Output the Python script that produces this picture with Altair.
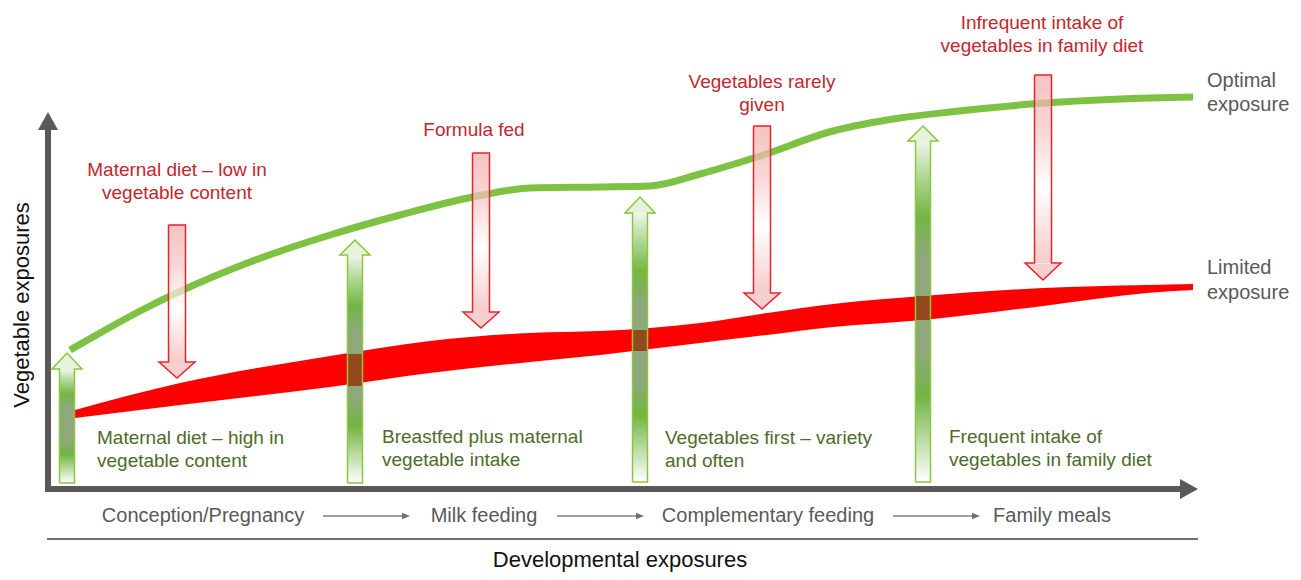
import altair as alt
import pandas as pd

FONT = "Liberation Sans"

# ---- data (image pixel coordinates) ----
# Optimal exposure curve
opt_x = [70, 100, 140, 183, 250, 330, 400, 473, 530, 600, 650, 700, 760, 833, 900, 950, 1045, 1120, 1193]
opt_y = [350, 333, 311, 290, 262, 235, 215, 197, 188, 187, 186, 174, 156, 131, 118, 112, 103, 99, 97]

# Limited exposure band
lim_x = [75, 180, 330, 430, 530, 600, 650, 700, 767, 833, 923, 1043, 1147, 1193]
lim_top = [410, 383, 356, 341, 333, 331, 328, 323, 313, 304, 296, 288, 285, 284]
lim_bot = [418, 405, 387, 373, 362, 355, 349, 343, 335, 327, 320, 306, 293, 290]

# Green (positive) arrows
up_cx = [67, 355, 640, 923]
up_tip = [353, 240, 197, 126]
up_base = [369, 255, 213, 141]
up_bottom = [483, 483, 482, 482]
up_shaft_half = 7.5
up_head_half = 15

# Red (negative) arrows
dn_cx = [177, 481, 762, 1043]
dn_top = [225, 153, 126, 75]
dn_base = [362, 312, 293, 263]
dn_tip = [378, 328, 309, 280]
dn_shaft_half = 8.5
dn_head_half = 18

# crossings of green arrows with the red band
cross_x1 = [347, 633, 916]
cross_x2 = [363, 648, 931]
cross_top = [354, 330, 296]
cross_bot = [386, 351, 320]

# annotations
red_lines = ["Maternal diet \u2013 low in", "vegetable content", "Formula fed",
             "Vegetables rarely", "given", "Infrequent intake of", "vegetables in family diet"]
red_x = [177, 177, 474, 762, 762, 1042, 1042]
red_y = [170, 193, 130, 82, 105, 23, 46]

green_lines = ["Maternal diet \u2013 high in", "vegetable content",
               "Breastfed plus maternal", "vegetable intake",
               "Vegetables first \u2013 variety", "and often",
               "Frequent intake of", "vegetables in family diet"]
green_x = [97, 97, 382, 382, 665, 665, 949, 949]
green_y = [438, 461, 437, 460, 438, 461, 437, 460]

side_lines = ["Optimal", "exposure", "Limited", "exposure"]
side_x = [1207, 1207, 1207, 1207]
side_y = [81, 105, 268, 293]

stage_labels = ["Conception/Pregnancy", "Milk feeding", "Complementary feeding", "Family meals"]
stage_x = [203, 484, 768, 1052]
stage_y = 516
stage_arrow_x1 = [323, 557, 893]
stage_arrow_x2 = [410, 644, 980]

# ---- scales ----
xs = alt.Scale(domain=[8, 1293])
ys = alt.Scale(domain=[8, 572], reverse=True)


def X(f):
    return alt.X(f, type="quantitative", scale=xs, axis=None)


def Y(f):
    return alt.Y(f, type="quantitative", scale=ys, axis=None)


AXIS_C = "#595959"

# axes
axes_df = pd.DataFrame({"x": [48, 45], "x2": [48, 1180], "y": [492, 489], "y2": [128, 489]})
axes = alt.Chart(axes_df).mark_rule(color=AXIS_C, strokeWidth=6).encode(
    x=X("x"), x2="x2", y=Y("y"), y2="y2")
yhead = alt.Chart(pd.DataFrame({"x": [48], "y": [121]})).mark_point(
    shape="M-1,0.9L0,-0.9L1,0.9Z", size=400, filled=True, fill=AXIS_C, opacity=1, strokeWidth=0
).encode(x=X("x"), y=Y("y"))
xhead = alt.Chart(pd.DataFrame({"x": [1189], "y": [489]})).mark_point(
    shape="M-0.9,-1L0.9,0L-0.9,1Z", size=400, filled=True, fill=AXIS_C, opacity=1, strokeWidth=0
).encode(x=X("x"), y=Y("y"))

sep = alt.Chart(pd.DataFrame({"x": [47], "x2": [1198], "y": [539]})).mark_rule(
    color="#404040", strokeWidth=1.6).encode(x=X("x"), x2="x2", y=Y("y"))

st_df = pd.DataFrame({"x": stage_arrow_x1, "x2": [v - 6 for v in stage_arrow_x2], "y": [stage_y] * 3})
st_lines = alt.Chart(st_df).mark_rule(color="#808080", strokeWidth=1.3).encode(
    x=X("x"), x2="x2", y=Y("y"))
st_heads = alt.Chart(pd.DataFrame({"x": [v - 4 for v in stage_arrow_x2], "y": [stage_y] * 3})).mark_point(
    shape="M-1,-0.8L1,0L-1,0.8Z", size=64, filled=True, fill="#707070", opacity=1, strokeWidth=0
).encode(x=X("x"), y=Y("y"))

stage_txt = alt.Chart(pd.DataFrame({"x": stage_x, "y": [stage_y] * 4, "t": stage_labels})).mark_text(
    font=FONT, fontSize=20, color=AXIS_C, align="center", baseline="middle"
).encode(x=X("x"), y=Y("y"), text="t:N")

dev_title = alt.Chart(pd.DataFrame({"x": [620], "y": [560], "t": ["Developmental exposures"]})).mark_text(
    font=FONT, fontSize=22, color="#111111", align="center", baseline="middle"
).encode(x=X("x"), y=Y("y"), text="t:N")

y_title = alt.Chart(pd.DataFrame({"x": [22], "y": [305], "t": ["Vegetable exposures"]})).mark_text(
    font=FONT, fontSize=22, color="#111111", align="center", baseline="middle", angle=270
).encode(x=X("x"), y=Y("y"), text="t:N")

# red band
band = alt.Chart(pd.DataFrame({"x": lim_x, "y": lim_top, "y2": lim_bot})).mark_area(
    color="#ff0000", interpolate="monotone"
).encode(x=X("x"), y=Y("y"), y2="y2")

# green curve
green = alt.Chart(pd.DataFrame({"x": opt_x, "y": opt_y})).mark_line(
    color="#7dc242", strokeWidth=7, interpolate="monotone", strokeCap="butt"
).encode(x=X("x"), y=Y("y"))

# green arrows
up_shaft_df = pd.DataFrame({
    "x": [c - up_shaft_half for c in up_cx], "x2": [c + up_shaft_half for c in up_cx],
    "y": up_base, "y2": up_bottom})
green_grad = {
    "gradient": "linear", "x1": 0, "y1": 0, "x2": 0, "y2": 1,
    "stops": [
        {"offset": 0.0, "color": "#eef6e8"},
        {"offset": 0.12, "color": "#a8d289"},
        {"offset": 0.22, "color": "#74b644"},
        {"offset": 0.34, "color": "#8fa97c"},
        {"offset": 0.62, "color": "#8fa97c"},
        {"offset": 0.75, "color": "#72b542"},
        {"offset": 0.88, "color": "#bcdca6"},
        {"offset": 1.0, "color": "#ffffff"},
    ],
}
up_shafts = alt.Chart(up_shaft_df).mark_rect(fill=green_grad, strokeWidth=0).encode(
    x=X("x"), x2="x2", y=Y("y"), y2="y2")
up_heads = alt.Chart(pd.DataFrame({"x": up_cx, "y": [(a + b) / 2 for a, b in zip(up_tip, up_base)]})).mark_point(
    shape="M-1,0.533L1,0.533L0,-0.533Z", size=(2 * up_head_half) ** 2, filled=True,
    fill="#e6f2dc", opacity=1, strokeWidth=0
).encode(x=X("x"), y=Y("y"))

cross = alt.Chart(pd.DataFrame({"x": cross_x1, "x2": cross_x2, "y": cross_top, "y2": cross_bot})).mark_rect(
    color="#924a1d").encode(x=X("x"), x2="x2", y=Y("y"), y2="y2")


def outline_rows(cx, tip, base, end, sh, hh, prefix):
    rows = []
    for i, (c, t, b, e) in enumerate(zip(cx, tip, base, end)):
        pts = [(c - sh, e), (c - sh, b), (c - hh, b), (c, t), (c + hh, b), (c + sh, b), (c + sh, e), (c - sh, e)]
        for k, (px, py) in enumerate(pts):
            rows.append({"id": f"{prefix}{i}", "k": k, "x": px, "y": py})
    return pd.DataFrame(rows)


up_out = alt.Chart(outline_rows(up_cx, up_tip, up_base, up_bottom, up_shaft_half, up_head_half, "u")).mark_line(
    color="#8cc63f", strokeWidth=1.5, strokeJoin="miter"
).encode(x=X("x"), y=Y("y"), detail="id:N", order="k:Q")

# red arrows
dn_shaft_df = pd.DataFrame({
    "x": [c - dn_shaft_half for c in dn_cx], "x2": [c + dn_shaft_half for c in dn_cx],
    "y": dn_top, "y2": dn_base})
red_grad = {
    "gradient": "linear", "x1": 0, "y1": 0, "x2": 0, "y2": 1,
    "stops": [
        {"offset": 0.0, "color": "#f3a9a9"},
        {"offset": 0.3, "color": "#f7c4c4"},
        {"offset": 0.6, "color": "#ffffff"},
        {"offset": 1.0, "color": "#f4b4b4"},
    ],
}
dn_shafts = alt.Chart(dn_shaft_df).mark_rect(fill=red_grad, fillOpacity=0.7, strokeWidth=0).encode(
    x=X("x"), x2="x2", y=Y("y"), y2="y2")
dn_heads = alt.Chart(pd.DataFrame({"x": dn_cx, "y": [(a + b) / 2 for a, b in zip(dn_tip, dn_base)]})).mark_point(
    shape="M-1,-0.444L1,-0.444L0,0.444Z", size=(2 * dn_head_half) ** 2, filled=True,
    fill="#f6c3c3", opacity=0.8, strokeWidth=0
).encode(x=X("x"), y=Y("y"))
dn_out = alt.Chart(outline_rows(dn_cx, dn_tip, dn_base, dn_top, dn_shaft_half, dn_head_half, "d")).mark_line(
    color="#e3262b", strokeWidth=1.5, strokeJoin="miter"
).encode(x=X("x"), y=Y("y"), detail="id:N", order="k:Q")

# texts
red_txt = alt.Chart(pd.DataFrame({"x": red_x, "y": red_y, "t": red_lines})).mark_text(
    font=FONT, fontSize=19, color="#c4262e", align="center", baseline="middle"
).encode(x=X("x"), y=Y("y"), text="t:N")
green_txt = alt.Chart(pd.DataFrame({"x": green_x, "y": green_y, "t": green_lines})).mark_text(
    font=FONT, fontSize=19, color="#4d6b2a", align="left", baseline="middle"
).encode(x=X("x"), y=Y("y"), text="t:N")
side_txt = alt.Chart(pd.DataFrame({"x": side_x, "y": side_y, "t": side_lines})).mark_text(
    font=FONT, fontSize=20, color=AXIS_C, align="left", baseline="middle"
).encode(x=X("x"), y=Y("y"), text="t:N")

chart = alt.layer(
    axes, yhead, xhead, sep, st_lines, st_heads, stage_txt, dev_title, y_title,
    band, green,
    up_shafts, cross, up_heads, up_out,
    dn_shafts, dn_heads, dn_out,
    red_txt, green_txt, side_txt,
).properties(
    width=1285, height=564, padding=0, background="white",
    autosize=alt.AutoSizeParams(type="none"),
).configure_view(strokeWidth=0, stroke="transparent")

chart.save("out.html", embed_options={"renderer": "svg", "actions": False})
